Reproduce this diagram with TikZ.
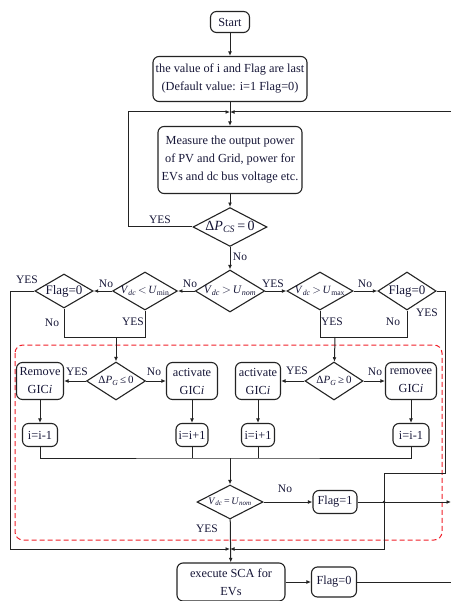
\documentclass[tikz,border=0pt]{standalone}
\usepackage{fontspec}
\setmainfont{Liberation Serif}
\usetikzlibrary{arrows.meta, positioning, shapes.geometric, calc}
\definecolor{TextNavy}{RGB}{22, 22, 55}
\definecolor{LineGray}{RGB}{35, 35, 35}
\definecolor{DashRed}{RGB}{240, 30, 40}
\newcommand{\Vdc}{\textit{V}\textsubscript{\textit{dc}}}
\newcommand{\gic}{GIC\textit{i}}

\begin{document}
\begin{tikzpicture}[
    x=1pt, y=-1pt,
    every node/.style={font=\fontsize{12.3}{18}\selectfont, text=TextNavy, align=center},
    line/.style={draw=LineGray, line width=1pt},
    arr/.style={line, -{Latex[length=4.5pt, width=3.8pt]}},
    procbox/.style={draw=LineGray, line width=1.1pt, rounded corners=6pt, inner sep=1pt},
    decide/.style={draw=LineGray, line width=1.1pt, diamond, inner sep=0pt, aspect=1.8},
    lbl/.style={inner sep=0pt, font=\fontsize{11.5}{12}\selectfont}
]
\useasboundingbox (0,0) rectangle (451,601);
\draw[DashRed, line width=1pt, dash pattern=on 5pt off 3pt, rounded corners=8pt] (15,345) rectangle (442,540);

\node[procbox, minimum width=39pt, minimum height=21pt] (start) at (230,22) {Start};
\node[procbox, minimum width=154pt, minimum height=45pt] (init) at (230,79) {the value of i and Flag are last\\ (Default value: i=1 Flag=0)};
\node[procbox, minimum width=144pt, minimum height=67pt] (measure) at (230,160) {Measure the output power\\of PV and Grid, power for\\EVs and dc bus voltage etc.};
\node[decide, minimum width=74pt, minimum height=37pt, font=\fontsize{14}{15}\selectfont] (dcs) at (230,227) {Δ\textit{P}\textsubscript{\textit{CS}}\,=\,0};

\node[decide, minimum width=65pt, minimum height=42pt, font=\fontsize{11.5}{12}\selectfont] (dnom) at (230,291) {\Vdc\,$>$\,\textit{U}\textsubscript{\textit{nom}}};
\node[decide, minimum width=64pt, minimum height=38pt, font=\fontsize{11}{12}\selectfont] (dmin) at (145,291) {\Vdc\,$<$\,\textit{U}\textsubscript{min}};
\node[decide, minimum width=55pt, minimum height=34pt, font=\fontsize{13}{14}\selectfont] (flagL) at (64,291) {Flag=0};
\node[decide, minimum width=66pt, minimum height=38pt, font=\fontsize{11}{12}\selectfont] (dmax) at (320,291) {\Vdc\,$>$\,\textit{U}\textsubscript{max}};
\node[decide, minimum width=53pt, minimum height=38pt, font=\fontsize{13}{14}\selectfont] (flagR) at (407,291) {Flag=0};

\node[procbox, minimum width=47pt, minimum height=37pt] (remL) at (40,381) {Remove\\\gic};
\node[decide, minimum width=59pt, minimum height=38pt, font=\fontsize{11}{12}\selectfont] (dpgL) at (116,381) {Δ\textit{P}\textsubscript{\textit{G}}\,≤\,0};
\node[procbox, minimum width=51pt, minimum height=37pt] (actL) at (192,381) {activate\\\gic};
\node[procbox, minimum width=45pt, minimum height=37pt] (actR) at (258,381) {activate\\\gic};
\node[decide, minimum width=58pt, minimum height=38pt, font=\fontsize{11}{12}\selectfont] (dpgR) at (334,381) {Δ\textit{P}\textsubscript{\textit{G}}\,≥\,0};
\node[procbox, minimum width=51pt, minimum height=37pt] (remR) at (411,381) {removee\\\gic};

\node[procbox, minimum width=35pt, minimum height=23pt] (decL) at (40,435) {i=i-1};
\node[procbox, minimum width=32pt, minimum height=23pt] (incL) at (192,435) {i=i+1};
\node[procbox, minimum width=33pt, minimum height=23pt] (incR) at (258,435) {i=i+1};
\node[procbox, minimum width=36pt, minimum height=23pt] (decR) at (411,435) {i=i-1};

\node[decide, minimum width=66pt, minimum height=34pt, font=\fontsize{10}{11}\selectfont] (dfin) at (230,502) {\Vdc\,=\,\textit{U}\textsubscript{\textit{nom}}};
\node[procbox, minimum width=44pt, minimum height=23pt] (flag1) at (335,502) {Flag=1};
\node[procbox, minimum width=108pt, minimum height=38pt] (sca) at (231,582) {execute SCA for\\EVs};
\node[procbox, minimum width=45pt, minimum height=30pt] (flag0) at (334,582) {Flag=0};

\coordinate (jtop) at (230,112);
\coordinate (jbot) at (230,549);
\coordinate (mL) at (116,337);
\coordinate (mR) at (335,337);
\coordinate (mB) at (230,458);
\coordinate (kR) at (384,502);

\draw[arr] (start) -- (init);
\draw[arr] (init) -- (measure);
\draw[arr] (dcs.west) -- (128,227) -- (128,112) -- (jtop);
\draw[arr] (451,112) -- (jtop);
\draw[arr] (measure) -- (dcs);
\draw[arr] (dcs) -- (dnom);
\draw[arr] (dnom.west) -- (dmin.east);
\draw[arr] (dmin.west) -- (flagL.east);
\draw[arr] (dnom.east) -- (dmax.west);
\draw[arr] (dmax.east) -- (flagR.west);
\draw[arr] (flagL.west) -- (10,291) -- (10,549) -- (jbot);
\draw[line] (flagL.south) |- (145,337) -- (dmin.south);
\draw[arr] (mL) -- (dpgL);
\draw[line] (dmax.south) |- (407,337) -- (flagR.south);
\draw[arr] (mR) -- (dpgR);
\draw[arr] (dpgL.west) -- (remL.east);
\draw[arr] (dpgL.east) -- (actL.west);
\draw[arr] (dpgR.west) -- (actR.east);
\draw[arr] (dpgR.east) -- (remR.west);
\draw[arr] (remL) -- (decL);
\draw[arr] (actL) -- (incL);
\draw[arr] (actR) -- (incR);
\draw[arr] (remR) -- (decR);
\draw[line] (decL.south) |- (mB) -| (decR.south);
\draw[line] (incL.south) -- (192,458);
\draw[line] (incR.south) -- (258,458);
\draw[arr] (mB) -- (dfin);
\draw[arr] (dfin) -- (flag1);
\draw[arr] (flag1) -- (451,502);
\draw[arr] (flagR.east) -- (445,291) -- (445,473) -- (384,473) -- (384,549) -- (jbot);
\fill[LineGray] (kR) circle (1.4pt);
\draw[arr] (dfin) -- (sca);
\draw[arr] (sca) -- (flag0);
\draw[line] (flag0) -- (451,582);

\node[lbl] (tYes1) at (160,220) {YES};
\node[lbl] (tNo1) at (240,257) {No};
\node[lbl] (tYes2) at (27,280) {YES};
\node[lbl] (tNo2) at (106,284) {No};
\node[lbl] (tNo3) at (190,284) {No};
\node[lbl] (tYes3) at (273,284) {YES};
\node[lbl] (tNo4) at (365,284) {No};
\node[lbl] (tNo5) at (52,323) {No};
\node[lbl] (tYes4) at (133,322) {YES};
\node[lbl] (tYes5) at (332,322) {YES};
\node[lbl] (tNo6) at (393,322) {No};
\node[lbl] (tYes6) at (427,313) {YES};
\node[lbl] (tYes7) at (77,372) {YES};
\node[lbl] (tNo7) at (154,372) {No};
\node[lbl] (tYes8) at (297,371) {YES};
\node[lbl] (tNo8) at (375,372) {No};
\node[lbl] (tNo9) at (285,489) {No};
\node[lbl] (tYes9) at (207,529) {YES};
\end{tikzpicture}
\end{document}
